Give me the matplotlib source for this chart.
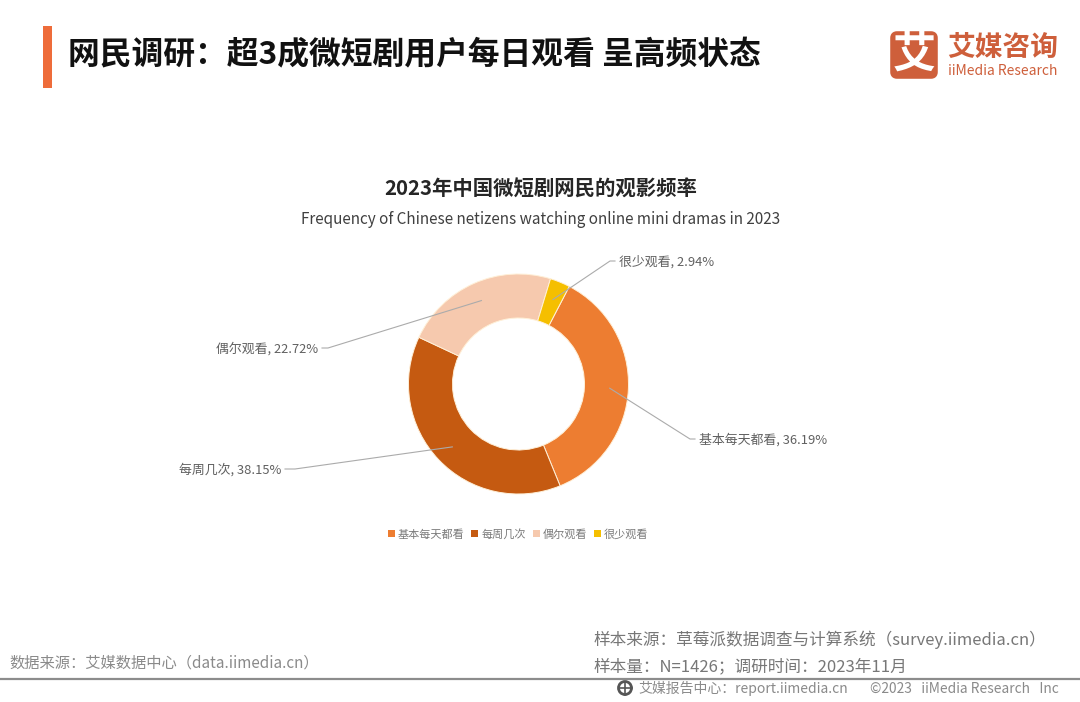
import matplotlib
matplotlib.use("Agg")
import numpy as np
import matplotlib.pyplot as plt
from matplotlib.patches import FancyBboxPatch, Rectangle, Circle

plt.rcParams['font.family'] = ['Noto Sans CJK SC', 'DejaVu Sans']

categories = ['基本每天都看', '每周几次', '偶尔观看', '很少观看']
shares = [36.19, 38.15, 22.72, 2.94]
colors = ['#ED7D31', '#C55A11', '#F6C9AE', '#F5BF00']

W, H = 1080, 702
# elbow x, elbow y, end x, text x of each leader line
leaders = [(690, 439, 695, 699), (295, 469, 285, 281), (328, 348, 322, 318), (610, 261, 615, 619)]
cx, cy, R = 518.5, 384, 110
start_clock = 27.5


def Y(y):
    return H - y


fig = plt.figure(figsize=(W / 100, H / 100), dpi=100)
ax = fig.add_axes([0, 0, 1, 1])

wedges, _ = ax.pie(shares, colors=colors, startangle=90 - start_clock, counterclock=False,
                   center=(cx, Y(cy)), radius=R,
                   wedgeprops=dict(width=R * 0.4, edgecolor='#FFF0D8', linewidth=0.7))
ax.set_xlim(0, W)
ax.set_ylim(0, H)
ax.set_aspect('equal')
ax.axis('off')

# leader lines start inside the ring at the middle of each slice
ends = np.cumsum(shares)
mids = start_clock + (ends - np.array(shares) / 2) * 3.6
for cat, v, m, (ex, ey, lx, tx) in zip(categories, shares, mids, leaders):
    r = R * 0.83
    sx = cx + r * np.sin(np.radians(m))
    sy = cy - r * np.cos(np.radians(m))
    ax.plot([sx, ex, lx], [Y(sy), Y(ey), Y(ey)], color='#ABABAB', lw=0.8, zorder=5)
    ha = 'left' if tx > lx else 'right'
    ax.text(tx, Y(ey + 0.5), f'{cat}, {v:.2f}%', fontsize=9.3, color='#606060', ha=ha, va='center')

leg = ax.legend(wedges, categories, loc='center', bbox_to_anchor=(518 / W, 1 - 534 / H), ncols=4,
                frameon=False, fontsize=8.0, labelcolor='#7A7A7A', handlelength=0.65, handleheight=0.65,
                handletextpad=0.25, columnspacing=0.62, borderpad=0)
for h in leg.legend_handles:
    h.set_linewidth(0)

# header
ax.add_patch(Rectangle((43, Y(88)), 9, 62, color='#EE6C3A', lw=0))
ax.text(68, Y(55), '网民调研：超3成微短剧用户每日观看 呈高频状态', fontsize=22.9, fontweight='bold',
        color='#111111', va='center')

# logo
brand = '#CE5F3B'
ax.add_patch(FancyBboxPatch((893, Y(76)), 42, 42, boxstyle='round,pad=0,rounding_size=4', fc=brand, ec=brand, lw=4,
                            joinstyle='round'))
ax.text(914, Y(55), '艾', fontsize=31, fontweight='bold', color='white', ha='center', va='center')
ax.text(1003, Y(48), '艾媒咨询', fontsize=20, fontweight='bold', color=brand, ha='center', va='center')
ax.text(1003, Y(71), 'iiMedia Research', fontsize=10, color=brand, ha='center', va='center')

ax.text(541, Y(189), '2023年中国微短剧网民的观影频率', fontsize=14.7, fontweight='bold', color='#262626',
        ha='center', va='center')
ax.text(540.5, Y(219), 'Frequency of Chinese netizens watching online mini dramas in 2023', fontsize=11,
        color='#404040', ha='center', va='center')

# footer
gray = '#8A8A8A'
ax.text(9, Y(663.5), '数据来源：艾媒数据中心（data.iimedia.cn）', fontsize=11, color=gray, va='center')
ax.text(593, Y(639.5), '样本来源：草莓派数据调查与计算系统（survey.iimedia.cn）', fontsize=12, color='#777777', va='center')
ax.text(593, Y(666.5), '样本量：N=1426；调研时间：2023年11月', fontsize=12, color='#777777', va='center')
ax.plot([0, W], [Y(678.5), Y(678.5)], color='#8C8C8C', lw=1.6)
ax.add_patch(Circle((625, Y(688)), 6.5, fc='none', ec='#555555', lw=2))
ax.plot([618.5, 631.5], [Y(688), Y(688)], color='#555555', lw=1.2)
ax.plot([625, 625], [Y(681.5), Y(694.5)], color='#555555', lw=1.2)
ax.text(638, Y(688.5), '艾媒报告中心：report.iimedia.cn', fontsize=10, color=gray, va='center')
ax.text(1059, Y(688.5), '©2023   iiMedia Research   Inc', fontsize=9.9, color=gray, ha='right', va='center')

fig.savefig('out.png', dpi=100, facecolor='white')
